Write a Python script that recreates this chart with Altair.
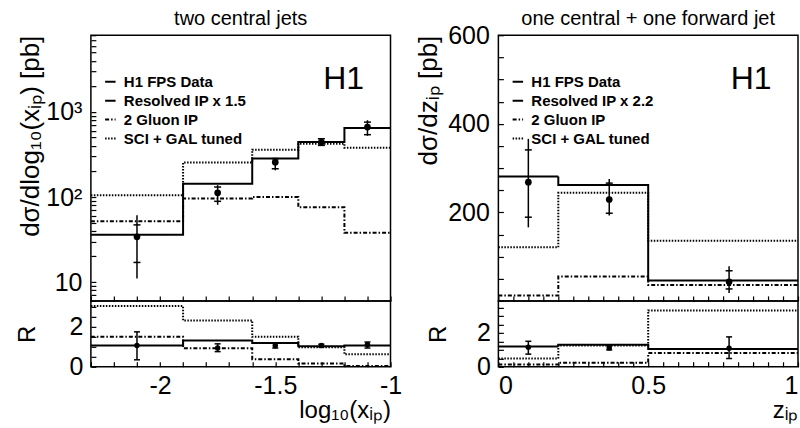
import altair as alt
import pandas as pd

# ---------------- values ----------------
labels_L = ["H1 FPS Data", "Resolved IP x 1.5", "2 Gluon IP", "SCI + GAL tuned"]
labels_R = ["H1 FPS Data", "Resolved IP x 2.2", "2 Gluon IP", "SCI + GAL tuned"]

# left: two central jets, d sigma / d log10(x_IP)
edges_L = [-2.3, -1.9, -1.6, -1.4, -1.2, -1.0]
res_L = [36, 143, 283, 444, 648]
glu_L = [52, 96, 100, 76, 38]
sci_L = [105, 254, 360, 424, 380]
xdat_L = [-2.1, -1.75, -1.5, -1.3, -1.1]
dat_L = [34, 112, 257, 444, 665]
tot_lo_L = [11, 81, 206, 399, 525]
tot_hi_L = [61, 138, 289, 494, 800]
stat_lo_L = [17, 89, 215, 405, 541]
stat_hi_L = [47, 131, 283, 485, 760]

r_res_L = [1.07, 1.32, 1.19, 1.03, 1.07]
r_glu_L = [1.50, 0.93, 0.38, 0.17, 0.04]
r_sci_L = [3.04, 2.32, 1.50, 0.98, 0.63]
r_dat_L = [1.07, 0.94, 1.07, 1.07, 1.10]
r_lo_L = [0.35, 0.76, 0.94, 0.99, 0.94]
r_hi_L = [1.75, 1.15, 1.19, 1.13, 1.24]

# right: one central + one forward jet, d sigma / d z_IP
edges_R = [0.0, 0.2, 0.5, 1.0]
res_R = [281, 262, 46]
glu_R = [12, 55, 36]
sci_R = [121, 244, 136]
xdat_R = [0.1, 0.37, 0.77]
dat_R = [268, 229, 43]
tot_lo_R = [166, 193, 18]
tot_hi_R = [366, 275, 78]
stat_lo_R = [189, 198, 27]
stat_hi_R = [341, 266, 68]

r_res_R = [1.20, 1.30, 1.05]
r_glu_R = [0.14, 0.24, 0.81]
r_sci_R = [0.49, 1.26, 3.33]
r_dat_R = [1.16, 1.12, 1.10]
r_lo_R = [0.75, 1.00, 0.49]
r_hi_R = [1.51, 1.25, 1.77]

# axis tick positions
xticks_L = [-2.3, -2.2, -2.1, -2.0, -1.9, -1.8, -1.7, -1.6, -1.5, -1.4, -1.3, -1.2, -1.1, -1.0]
xticks_R = [0.0, 0.05, 0.1, 0.15, 0.2, 0.25, 0.3, 0.35, 0.4, 0.45, 0.5, 0.55, 0.6, 0.65,
            0.7, 0.75, 0.8, 0.85, 0.9, 0.95, 1.0]
yticks_log = [6, 7, 8, 9, 10, 20, 30, 40, 50, 60, 70, 80, 90, 100, 200, 300, 400, 500,
              600, 700, 800, 900, 1000, 2000, 3000, 4000, 5000, 6000, 7000, 8000]
yticks_lin = [0, 50, 100, 150, 200, 250, 300, 350, 400, 450, 500, 550, 600]
rticks = [0, 0.5, 1.0, 1.5, 2.0, 2.5, 3.0, 3.5]

FONT = "Liberation Sans"
DASHES = [[1, 0], [1, 0], [4, 2, 1.5, 2], [1.5, 1.5]]


def step_table(edges, names, series):
    rows = []
    for name, vals in zip(names, series):
        for e, v in zip(edges, list(vals) + [vals[-1]]):
            rows.append({"x": e, "y": v, "s": name})
    return pd.DataFrame(rows)


def panel(edges, labels, models, rmodels, xd, dat, tlo, thi, slo, shi,
          rdat, rlo, rhi, xdom, xticks, xlabexpr, xtitle, xflush,
          yscale, yaxis_vals, ylabexpr, ytitle, ytitlepad, rdom, title, rtitlepad, toff):
    xs = alt.Scale(domain=xdom, nice=False, zero=False)
    ax_main = alt.Axis(values=xticks, labels=False, title=None, tickSize=5, offset=-5,
                       domain=False, grid=False, tickColor="black", tickWidth=1.2)
    ax_ratio = alt.Axis(values=xticks, labelExpr=xlabexpr, title=xtitle, titleAnchor="end",
                        tickSize=5, offset=-5, domain=False, grid=False, tickColor="black",
                        tickWidth=1.2, labelPadding=7, labelFlush=xflush, titlePadding=0,
                        labelFontSize=25, titleFontSize=24)
    ay_main = alt.Axis(values=yaxis_vals, labelExpr=ylabexpr, title=ytitle, titleAnchor="end",
                       tickSize=5, offset=-5, domain=False, grid=False, tickColor="black",
                       tickWidth=1.2, labelPadding=9, titlePadding=ytitlepad,
                       labelFontSize=25, titleFontSize=26)
    ry = alt.Scale(domain=rdom, nice=False, zero=False)
    ay_ratio = alt.Axis(values=rticks, labelExpr="datum.value == 0 || datum.value == 2 ? toString(datum.value) : ''",
                        title="R", titleAnchor="middle", tickSize=5, offset=-5, domain=False,
                        grid=False, tickColor="black", tickWidth=1.2, labelPadding=8,
                        titlePadding=rtitlepad, labelFontSize=25, titleFontSize=24)

    dash_scale = alt.Scale(domain=labels, range=DASHES)
    legend = alt.Legend(
        title=None, orient="none", legendX=12, legendY=39, symbolType="stroke",
        symbolSize=110, symbolStrokeWidth=2, symbolStrokeColor="black",
        labelFont=FONT, labelFontSize=15, labelFontWeight="bold", labelColor="black",
        rowPadding=3, labelOffset=6)

    sdf = step_table(edges, labels[1:], models)
    steps = alt.Chart(sdf).mark_line(interpolate="step-after", strokeWidth=2, color="black",
                                     clip=True).encode(
        x=alt.X("x:Q", scale=xs, axis=ax_main),
        y=alt.Y("y:Q", scale=yscale, axis=ay_main),
        strokeDash=alt.StrokeDash("s:N", scale=dash_scale, legend=legend))

    ddf = pd.DataFrame({"x": xd, "y": dat, "lo": tlo, "hi": thi})
    err = alt.Chart(ddf).mark_rule(color="black", strokeWidth=1.5).encode(
        x=alt.X("x:Q", scale=xs, axis=ax_main),
        y=alt.Y("lo:Q", scale=yscale, axis=ay_main), y2="hi:Q")
    pts = alt.Chart(ddf).mark_point(filled=True, color="black", size=45, shape="circle",
                                    opacity=1).encode(
        x=alt.X("x:Q", scale=xs, axis=ax_main),
        y=alt.Y("y:Q", scale=yscale, axis=ay_main))
    tdf = pd.DataFrame({"x": list(xd) + list(xd), "v": list(slo) + list(shi)})
    caps = alt.Chart(tdf).mark_tick(orient="horizontal", size=7, thickness=1.5,
                                    color="black", opacity=1).encode(
        x=alt.X("x:Q", scale=xs, axis=ax_main),
        y=alt.Y("v:Q", scale=yscale, axis=ay_main))
    h1 = alt.Chart(pd.DataFrame({"t": ["H1"]})).mark_text(
        font=FONT, fontSize=32, align="center", baseline="middle", color="black").encode(
        x=alt.value(253), y=alt.value(44), text="t:N")

    main = alt.layer(steps, err, caps, pts, h1).properties(
        width=300, height=266,
        title=alt.TitleParams(title, font=FONT, fontSize=20, fontWeight="normal",
                              color="black", anchor="middle", offset=toff, frame="group"))

    rdf = step_table(edges, labels[1:], rmodels)
    rsteps = alt.Chart(rdf).mark_line(interpolate="step-after", strokeWidth=2, color="black",
                                      clip=True).encode(
        x=alt.X("x:Q", scale=xs, axis=ax_ratio),
        y=alt.Y("y:Q", scale=ry, axis=ay_ratio),
        strokeDash=alt.StrokeDash("s:N", scale=dash_scale, legend=None))
    rd = pd.DataFrame({"x": xd, "y": rdat, "lo": rlo, "hi": rhi})
    rerr = alt.Chart(rd).mark_rule(color="black", strokeWidth=1.5).encode(
        x=alt.X("x:Q", scale=xs, axis=ax_ratio),
        y=alt.Y("lo:Q", scale=ry, axis=ay_ratio), y2="hi:Q")
    rpts = alt.Chart(rd).mark_point(filled=True, color="black", size=30, shape="circle",
                                    opacity=1).encode(
        x=alt.X("x:Q", scale=xs, axis=ax_ratio),
        y=alt.Y("y:Q", scale=ry, axis=ay_ratio))
    rcdf = pd.DataFrame({"x": list(xd) + list(xd), "v": list(rlo) + list(rhi)})
    rcaps = alt.Chart(rcdf).mark_tick(orient="horizontal", size=6, thickness=1.5,
                                      color="black", opacity=1).encode(
        x=alt.X("x:Q", scale=xs, axis=ax_ratio),
        y=alt.Y("v:Q", scale=ry, axis=ay_ratio))
    ratio = alt.layer(rsteps, rerr, rcaps, rpts).properties(width=300, height=66)
    return main, ratio


mainL, ratioL = panel(edges_L, labels_L, [res_L, glu_L, sci_L], [r_res_L, r_glu_L, r_sci_L],
                      xdat_L, dat_L, tot_lo_L, tot_hi_L, stat_lo_L, stat_hi_L,
                      r_dat_L, r_lo_L, r_hi_L, [-2.3, -1.0], xticks_L,
                      "abs(datum.value*2 - round(datum.value*2)) < 0.001 ? toString(round(datum.value*10)/10) : ''",
                      "log\u2081\u2080(x\u1d62\u209a)", False,
                      alt.Scale(type="log", domain=[6, 8000], nice=False), yticks_log,
                      "datum.value == 10 ? '10' : datum.value == 100 ? '10\u00b2' : datum.value == 1000 ? '10\u00b3' : ''",
                      "d\u03c3/dlog\u2081\u2080(x\u1d62\u209a) [pb]", 2, [0, 3.3], "two central jets", 30, 6)

mainR, ratioR = panel(edges_R, labels_R, [res_R, glu_R, sci_R], [r_res_R, r_glu_R, r_sci_R],
                      xdat_R, dat_R, tot_lo_R, tot_hi_R, stat_lo_R, stat_hi_R,
                      r_dat_R, r_lo_R, r_hi_R, [0.0, 1.0], xticks_R,
                      "datum.value == 0 || datum.value == 0.5 || datum.value == 1 ? toString(datum.value) : ''",
                      "z\u1d62\u209a", True,
                      alt.Scale(domain=[0, 600], nice=False, zero=False), yticks_lin,
                      "datum.value > 0 && datum.value % 200 == 0 ? toString(datum.value) : ''",
                      "d\u03c3/dz\u1d62\u209a [pb]", 6, [0, 3.9], "one central + one forward jet", 26, -6)

chart = alt.concat(
    mainL, mainR, ratioL, ratioR, columns=2,
    spacing={"row": 0, "column": 108}, bounds="flush"
).resolve_scale(
    x="independent", y="independent", strokeDash="independent"
).resolve_legend(strokeDash="independent").properties(
    padding={"left": 14, "top": 7, "right": 0, "bottom": 0}
).configure(font=FONT).configure_view(
    stroke="black", strokeWidth=1.5
).configure_axis(
    labelFont=FONT, titleFont=FONT, labelColor="black", titleColor="black",
    titleFontWeight="normal"
)

chart.save("out.html", embed_options={"renderer": "svg", "actions": False})
